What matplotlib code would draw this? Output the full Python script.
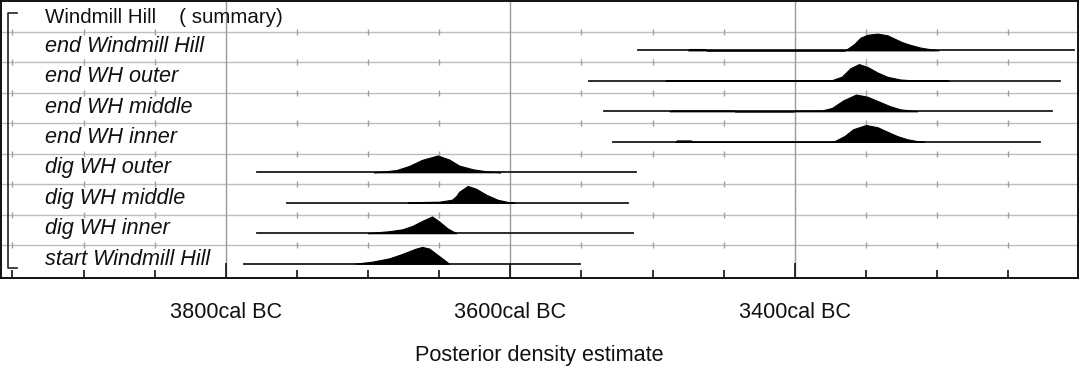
import matplotlib
matplotlib.use("Agg")
import matplotlib.pyplot as plt
import matplotlib.transforms as mtransforms

plt.rcParams['font.family'] = ['Liberation Sans', 'DejaVu Sans']

# ---------------- data ----------------
summary_label = "Windmill Hill    ( summary)"
row_labels = ["end Windmill Hill", "end WH outer", "end WH middle", "end WH inner",
              "dig WH outer", "dig WH middle", "dig WH inner", "start Windmill Hill"]

# full ranges (cal BC) of the thin line under each distribution
range_start = [3510, 3545, 3534, 3528, 3778, 3757, 3778, 3787]
range_end = [3204, 3214, 3219, 3228, 3512, 3517, 3514, 3551]

# posterior density outlines (cal BC, relative density)
end_wh_years = [3475, 3474, 3463, 3462, 3365, 3362, 3358, 3354, 3349, 3342, 3335, 3331, 3325, 3319, 3312, 3305, 3299]
end_wh_dens = [0.0, 0.08, 0.08, 0.0, 0.0, 0.15, 0.4, 0.75, 0.93, 1.0, 0.9, 0.74, 0.5, 0.33, 0.17, 0.07, 0.0]

end_outer_years = [3491, 3490, 3374, 3367, 3361, 3355, 3349, 3342, 3335, 3326, 3319, 3293, 3292]
end_outer_dens = [0.0, 0.04, 0.04, 0.25, 0.75, 1.0, 0.83, 0.5, 0.24, 0.08, 0.04, 0.04, 0.0]

end_middle_years = [3488, 3487, 3443, 3442, 3401, 3400, 3381, 3374, 3366, 3357, 3349, 3340, 3333, 3326, 3314]
end_middle_dens = [0.0, 0.05, 0.05, 0.0, 0.0, 0.04, 0.05, 0.2, 0.65, 1.0, 0.87, 0.55, 0.3, 0.12, 0.0]

end_inner_years = [3484, 3483, 3473, 3472, 3373, 3365, 3359, 3350, 3342, 3335, 3328, 3321, 3314, 3309]
end_inner_dens = [0.0, 0.08, 0.08, 0.0, 0.0, 0.35, 0.75, 1.0, 0.87, 0.6, 0.34, 0.15, 0.04, 0.0]

dig_outer_years = [3696, 3690, 3680, 3671, 3662, 3651, 3643, 3636, 3626, 3617, 3607]
dig_outer_dens = [0.0, 0.04, 0.13, 0.38, 0.74, 1.0, 0.76, 0.4, 0.17, 0.06, 0.0]

dig_middle_years = [3672, 3671, 3650, 3641, 3638, 3636, 3630, 3624, 3617, 3609, 3602, 3597]
dig_middle_dens = [0.0, 0.03, 0.06, 0.18, 0.4, 0.65, 1.0, 0.83, 0.48, 0.18, 0.05, 0.0]

dig_inner_years = [3700, 3697, 3685, 3676, 3669, 3662, 3655, 3650, 3644, 3638]
dig_inner_dens = [0.0, 0.03, 0.12, 0.23, 0.43, 0.73, 1.0, 0.7, 0.28, 0.0]

start_wh_years = [3709, 3697, 3685, 3676, 3667, 3662, 3657, 3650, 3643]
start_wh_dens = [0.0, 0.12, 0.32, 0.58, 0.88, 1.0, 0.9, 0.45, 0.0]

post_years = [end_wh_years, end_outer_years, end_middle_years, end_inner_years,
              dig_outer_years, dig_middle_years, dig_inner_years, start_wh_years]
post_dens = [end_wh_dens, end_outer_dens, end_middle_dens, end_inner_dens,
             dig_outer_dens, dig_middle_dens, dig_inner_dens, start_wh_dens]

major_ticks = [3800, 3600, 3400]
tick_labels = ["3800cal BC", "3600cal BC", "3400cal BC"]
minor_ticks = [3950, 3900, 3850, 3750, 3700, 3650, 3550, 3500, 3450, 3350, 3300, 3250]
x_label = "Posterior density estimate"

# ---------------- figure ----------------
W, H = 1080, 366
fig = plt.figure(figsize=(W / 100, H / 100), dpi=100)
ax = fig.add_axes([1 / W, (H - 278) / H, 1077 / W, 277 / H])

n = len(row_labels)
ax.set_xlim(3958, 3201)
ax.set_ylim(-0.08, n + 1.01)

# grid
for g in range(1, n + 1):
    ax.axhline(g, color="#bdbdbd", lw=1.0, zorder=1)
for mt in major_ticks:
    ax.axvline(mt, color="#9a9a9a", lw=1.0, zorder=1)
# small marks on the horizontal grid lines
for g in range(1, n + 1):
    ax.plot(minor_ticks, [g] * len(minor_ticks), ls="none", marker="|",
            ms=5, mew=1.0, color="#a0a0a0", zorder=1)

# distributions
baseline_off = 0.39
peak_h = 0.55
for i in range(n):
    y0 = (n - 1 - i) + baseline_off
    ax.plot([range_start[i], range_end[i]], [y0, y0], color="#1a1a1a", lw=1.3, zorder=3)
    ys = [y0 + d * peak_h for d in post_dens[i]]
    ax.fill_between(post_years[i], y0, ys, color="black", lw=0.8, edgecolor="black", zorder=4)

# labels
tr = mtransforms.blended_transform_factory(ax.transAxes, ax.transData)
lab_x = 44 / 1077
for i, lab in enumerate(row_labels):
    yc = (n - 1 - i) + 0.53
    ax.text(lab_x, yc, lab, transform=tr, fontsize=15.6, style="italic",
            va="center", ha="left", color="#111111")
ax.text(lab_x, n + 0.47, summary_label, transform=tr, fontsize=14.8,
        va="center", ha="left", color="#111111")

# bracket
bx0, bx1 = 7 / 1077, 16 / 1077
btop = n + 0.62
bbot = 0.25
ax.plot([bx1, bx0, bx0, bx1], [btop, btop, bbot, bbot], transform=tr,
        color="#222222", lw=1.2, zorder=5, clip_on=False)

# axes / ticks
ax.set_xticks(major_ticks)
ax.set_xticklabels(tick_labels)
ax.set_xticks(minor_ticks, minor=True)
ax.tick_params(axis="x", which="major", direction="in", length=11, width=1.2,
               pad=17, labelsize=15.6, colors="#111111")
ax.tick_params(axis="x", which="minor", direction="in", length=6, width=1.2, colors="#111111")
ax.set_yticks([])
ax.set_xlabel(x_label, fontsize=15.6, labelpad=16, color="#111111")
for s in ax.spines.values():
    s.set_linewidth(1.4)
    s.set_color("#111111")

fig.savefig("out.png", dpi=100)
